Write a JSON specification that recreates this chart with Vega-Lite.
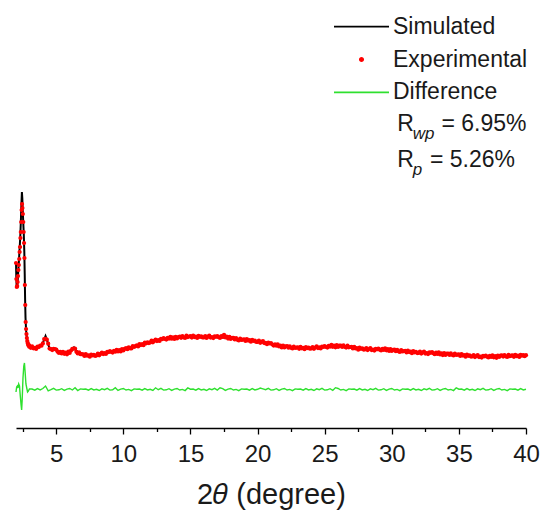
{
  "$schema": "https://vega.github.io/schema/vega-lite/v6.json",
  "width": 510,
  "height": 420,
  "padding": {"left": 12, "top": 8, "right": 5, "bottom": 5},
  "background": "white",
  "config": {"view": {"stroke": null}, "font": "Liberation Sans"},
  "data": {"values": [
    {"s":"Simulated","t":2.00,"i":166},{"s":"Simulated","t":2.02,"i":152},{"s":"Simulated","t":2.05,"i":141},{"s":"Simulated","t":2.09,"i":141},{"s":"Simulated","t":2.13,"i":148},{"s":"Simulated","t":2.17,"i":157},{"s":"Simulated","t":2.21,"i":165},{"s":"Simulated","t":2.25,"i":175},{"s":"Simulated","t":2.29,"i":184},{"s":"Simulated","t":2.33,"i":195},{"s":"Simulated","t":2.37,"i":210},{"s":"Simulated","t":2.41,"i":226},{"s":"Simulated","t":2.44,"i":236},{"s":"Simulated","t":2.47,"i":230},{"s":"Simulated","t":2.50,"i":218},{"s":"Simulated","t":2.54,"i":206},{"s":"Simulated","t":2.58,"i":194},{"s":"Simulated","t":2.62,"i":176},{"s":"Simulated","t":2.65,"i":154},{"s":"Simulated","t":2.68,"i":128},{"s":"Simulated","t":2.71,"i":110},{"s":"Simulated","t":2.75,"i":98},{"s":"Simulated","t":2.80,"i":91},{"s":"Simulated","t":2.86,"i":86},{"s":"Simulated","t":2.93,"i":83},{"s":"Simulated","t":3.0,"i":81.5},{"s":"Simulated","t":3.3,"i":80},{"s":"Simulated","t":3.6,"i":80.5},{"s":"Simulated","t":3.9,"i":83},{"s":"Simulated","t":4.0,"i":85},{"s":"Simulated","t":4.1,"i":88.5},{"s":"Simulated","t":4.2,"i":92},{"s":"Simulated","t":4.3,"i":88.5},{"s":"Simulated","t":4.4,"i":83.5},{"s":"Simulated","t":4.5,"i":80},{"s":"Simulated","t":4.7,"i":79},{"s":"Simulated","t":4.85,"i":79},{"s":"Simulated","t":5.0,"i":77.5},{"s":"Simulated","t":5.5,"i":75},{"s":"Simulated","t":6.0,"i":76},{"s":"Simulated","t":6.2,"i":78.5},{"s":"Simulated","t":6.32,"i":80.5},{"s":"Simulated","t":6.45,"i":78},{"s":"Simulated","t":6.7,"i":74.5},{"s":"Simulated","t":7.0,"i":73},{"s":"Simulated","t":7.5,"i":72.5},{"s":"Simulated","t":8.0,"i":73},{"s":"Simulated","t":9.0,"i":76},{"s":"Simulated","t":10.0,"i":78.5},{"s":"Simulated","t":11.0,"i":82},{"s":"Simulated","t":12.0,"i":86},{"s":"Simulated","t":13.0,"i":89},{"s":"Simulated","t":14.0,"i":90.5},{"s":"Simulated","t":15.0,"i":91.2},{"s":"Simulated","t":16.0,"i":91},{"s":"Simulated","t":17.0,"i":91},{"s":"Simulated","t":18.0,"i":90},{"s":"Simulated","t":19.0,"i":88},{"s":"Simulated","t":20.0,"i":86.5},{"s":"Simulated","t":21.0,"i":84},{"s":"Simulated","t":22.0,"i":81.5},{"s":"Simulated","t":23.0,"i":80},{"s":"Simulated","t":24.0,"i":80},{"s":"Simulated","t":25.0,"i":81},{"s":"Simulated","t":26.0,"i":82},{"s":"Simulated","t":27.0,"i":80.5},{"s":"Simulated","t":28.0,"i":79},{"s":"Simulated","t":29.0,"i":78.5},{"s":"Simulated","t":30.0,"i":78},{"s":"Simulated","t":31.0,"i":76.5},{"s":"Simulated","t":32.0,"i":75.5},{"s":"Simulated","t":33.0,"i":75},{"s":"Simulated","t":34.0,"i":74},{"s":"Simulated","t":35.0,"i":73},{"s":"Simulated","t":36.0,"i":72},{"s":"Simulated","t":37.0,"i":71.5},{"s":"Simulated","t":38.0,"i":72},{"s":"Simulated","t":39.0,"i":72},{"s":"Simulated","t":40.0,"i":72.5},

    {"s":"Experimental","t":2.00,"i":165},{"s":"Experimental","t":2.03,"i":149},{"s":"Experimental","t":2.06,"i":141},{"s":"Experimental","t":2.09,"i":142},{"s":"Experimental","t":2.12,"i":146},{"s":"Experimental","t":2.15,"i":152},{"s":"Experimental","t":2.18,"i":158},{"s":"Experimental","t":2.21,"i":163},{"s":"Experimental","t":2.24,"i":169},{"s":"Experimental","t":2.27,"i":176},{"s":"Experimental","t":2.30,"i":181},{"s":"Experimental","t":2.33,"i":190},{"s":"Experimental","t":2.36,"i":196},{"s":"Experimental","t":2.39,"i":206},{"s":"Experimental","t":2.42,"i":218},{"s":"Experimental","t":2.45,"i":224},{"s":"Experimental","t":2.48,"i":220},{"s":"Experimental","t":2.51,"i":214},{"s":"Experimental","t":2.54,"i":206},{"s":"Experimental","t":2.57,"i":196},{"s":"Experimental","t":2.60,"i":185},{"s":"Experimental","t":2.63,"i":170},{"s":"Experimental","t":2.66,"i":143},{"s":"Experimental","t":2.69,"i":123},{"s":"Experimental","t":2.72,"i":106},{"s":"Experimental","t":2.75,"i":99},{"s":"Experimental","t":2.78,"i":94},{"s":"Experimental","t":2.81,"i":90},{"s":"Experimental","t":2.84,"i":87},{"s":"Experimental","t":2.87,"i":85},{"s":"Experimental","t":2.90,"i":84},{"s":"Experimental","t":2.93,"i":82.5},{"s":"Experimental","t":2.96,"i":82.8},{"s":"Experimental","t":2.99,"i":81.2},
    {"s":"Experimental","t":3.0,"i":82.1},{"s":"Experimental","t":3.1,"i":80.2},{"s":"Experimental","t":3.2,"i":81.6},{"s":"Experimental","t":3.3,"i":79.7},{"s":"Experimental","t":3.4,"i":80.2},{"s":"Experimental","t":3.5,"i":79.0},{"s":"Experimental","t":3.6,"i":81.4},{"s":"Experimental","t":3.7,"i":80.9},{"s":"Experimental","t":3.8,"i":82.5},{"s":"Experimental","t":3.9,"i":82.3},
    {"s":"Experimental","t":4.0,"i":84.6},{"s":"Experimental","t":4.1,"i":89.0},{"s":"Experimental","t":4.2,"i":89.1},{"s":"Experimental","t":4.3,"i":88.3},{"s":"Experimental","t":4.4,"i":84.3},{"s":"Experimental","t":4.5,"i":79.4},{"s":"Experimental","t":4.6,"i":79.0},{"s":"Experimental","t":4.7,"i":77.9},{"s":"Experimental","t":4.8,"i":79.2},{"s":"Experimental","t":4.9,"i":78.9},
    {"s":"Experimental","t":5.0,"i":78.4},{"s":"Experimental","t":5.1,"i":76.3},{"s":"Experimental","t":5.2,"i":75.0},{"s":"Experimental","t":5.3,"i":76.1},{"s":"Experimental","t":5.4,"i":74.5},{"s":"Experimental","t":5.5,"i":76.2},{"s":"Experimental","t":5.6,"i":74.2},{"s":"Experimental","t":5.7,"i":75.4},{"s":"Experimental","t":5.8,"i":73.7},{"s":"Experimental","t":5.9,"i":76.3},
    {"s":"Experimental","t":6.0,"i":75.0},{"s":"Experimental","t":6.1,"i":77.4},{"s":"Experimental","t":6.2,"i":79.2},{"s":"Experimental","t":6.3,"i":79.4},{"s":"Experimental","t":6.4,"i":79.5},{"s":"Experimental","t":6.5,"i":76.2},{"s":"Experimental","t":6.6,"i":74.6},{"s":"Experimental","t":6.7,"i":75.7},{"s":"Experimental","t":6.8,"i":73.8},{"s":"Experimental","t":6.9,"i":73.8},
    {"s":"Experimental","t":7.0,"i":73.6},{"s":"Experimental","t":7.1,"i":72.0},{"s":"Experimental","t":7.2,"i":73.8},{"s":"Experimental","t":7.3,"i":72.3},{"s":"Experimental","t":7.4,"i":72.7},{"s":"Experimental","t":7.5,"i":71.3},{"s":"Experimental","t":7.6,"i":73.4},{"s":"Experimental","t":7.7,"i":72.5},{"s":"Experimental","t":7.8,"i":73.2},{"s":"Experimental","t":7.9,"i":72.1},
    {"s":"Experimental","t":8.0,"i":72.6},{"s":"Experimental","t":8.1,"i":74.3},{"s":"Experimental","t":8.2,"i":72.7},{"s":"Experimental","t":8.3,"i":74.2},{"s":"Experimental","t":8.4,"i":75.5},{"s":"Experimental","t":8.5,"i":73.9},{"s":"Experimental","t":8.6,"i":74.8},{"s":"Experimental","t":8.7,"i":74.0},{"s":"Experimental","t":8.8,"i":76.1},{"s":"Experimental","t":8.9,"i":75.9},
    {"s":"Experimental","t":9.0,"i":76.9},{"s":"Experimental","t":9.1,"i":76.0},{"s":"Experimental","t":9.2,"i":75.4},{"s":"Experimental","t":9.3,"i":77.2},{"s":"Experimental","t":9.4,"i":76.3},{"s":"Experimental","t":9.5,"i":78.2},{"s":"Experimental","t":9.6,"i":76.5},{"s":"Experimental","t":9.7,"i":78.0},{"s":"Experimental","t":9.8,"i":76.6},{"s":"Experimental","t":9.9,"i":79.0},
    {"s":"Experimental","t":10.0,"i":77.5},{"s":"Experimental","t":10.1,"i":79.2},{"s":"Experimental","t":10.2,"i":79.8},{"s":"Experimental","t":10.3,"i":78.8},{"s":"Experimental","t":10.4,"i":80.7},{"s":"Experimental","t":10.5,"i":79.7},{"s":"Experimental","t":10.6,"i":79.5},{"s":"Experimental","t":10.7,"i":82.0},{"s":"Experimental","t":10.8,"i":81.0},{"s":"Experimental","t":10.9,"i":81.9},
    {"s":"Experimental","t":11.0,"i":82.6},{"s":"Experimental","t":11.1,"i":81.6},{"s":"Experimental","t":11.2,"i":83.9},{"s":"Experimental","t":11.3,"i":82.9},{"s":"Experimental","t":11.4,"i":83.8},{"s":"Experimental","t":11.5,"i":82.8},{"s":"Experimental","t":11.6,"i":85.3},{"s":"Experimental","t":11.7,"i":84.7},{"s":"Experimental","t":11.8,"i":85.7},{"s":"Experimental","t":11.9,"i":84.9},
    {"s":"Experimental","t":12.0,"i":85.6},{"s":"Experimental","t":12.1,"i":87.3},{"s":"Experimental","t":12.2,"i":85.7},{"s":"Experimental","t":12.3,"i":87.2},{"s":"Experimental","t":12.4,"i":88.5},{"s":"Experimental","t":12.5,"i":86.9},{"s":"Experimental","t":12.6,"i":87.8},{"s":"Experimental","t":12.7,"i":87.0},{"s":"Experimental","t":12.8,"i":89.1},{"s":"Experimental","t":12.9,"i":88.9},
    {"s":"Experimental","t":13.0,"i":89.9},{"s":"Experimental","t":13.1,"i":89.0},{"s":"Experimental","t":13.2,"i":88.4},{"s":"Experimental","t":13.3,"i":90.2},{"s":"Experimental","t":13.4,"i":89.3},{"s":"Experimental","t":13.5,"i":91.2},{"s":"Experimental","t":13.6,"i":89.3},{"s":"Experimental","t":13.7,"i":90.6},{"s":"Experimental","t":13.8,"i":89.0},{"s":"Experimental","t":13.9,"i":91.2},
    {"s":"Experimental","t":14.0,"i":89.5},{"s":"Experimental","t":14.1,"i":91.0},{"s":"Experimental","t":14.2,"i":91.4},{"s":"Experimental","t":14.3,"i":90.2},{"s":"Experimental","t":14.4,"i":91.9},{"s":"Experimental","t":14.5,"i":90.7},{"s":"Experimental","t":14.6,"i":90.1},{"s":"Experimental","t":14.7,"i":92.3},{"s":"Experimental","t":14.8,"i":90.9},{"s":"Experimental","t":14.9,"i":91.5},
    {"s":"Experimental","t":15.0,"i":91.8},{"s":"Experimental","t":15.1,"i":90.4},{"s":"Experimental","t":15.2,"i":92.3},{"s":"Experimental","t":15.3,"i":90.9},{"s":"Experimental","t":15.4,"i":91.4},{"s":"Experimental","t":15.5,"i":90.0},{"s":"Experimental","t":15.6,"i":92.1},{"s":"Experimental","t":15.7,"i":91.1},{"s":"Experimental","t":15.8,"i":91.7},{"s":"Experimental","t":15.9,"i":90.5},
    {"s":"Experimental","t":16.0,"i":90.6},{"s":"Experimental","t":16.1,"i":92.0},{"s":"Experimental","t":16.2,"i":90.1},{"s":"Experimental","t":16.3,"i":91.3},{"s":"Experimental","t":16.4,"i":92.3},{"s":"Experimental","t":16.5,"i":90.4},{"s":"Experimental","t":16.6,"i":91.0},{"s":"Experimental","t":16.7,"i":89.9},{"s":"Experimental","t":16.8,"i":91.7},{"s":"Experimental","t":16.9,"i":91.2},
    {"s":"Experimental","t":17.0,"i":91.9},{"s":"Experimental","t":17.1,"i":90.8},{"s":"Experimental","t":17.2,"i":90.0},{"s":"Experimental","t":17.3,"i":91.8},{"s":"Experimental","t":17.4,"i":91.0},{"s":"Experimental","t":17.5,"i":93.2},{"s":"Experimental","t":17.6,"i":90.5},{"s":"Experimental","t":17.7,"i":91.4},{"s":"Experimental","t":17.8,"i":89.4},{"s":"Experimental","t":17.9,"i":91.1},
    {"s":"Experimental","t":18.0,"i":89.0},{"s":"Experimental","t":18.1,"i":90.1},{"s":"Experimental","t":18.2,"i":90.1},{"s":"Experimental","t":18.3,"i":88.5},{"s":"Experimental","t":18.4,"i":89.8},{"s":"Experimental","t":18.5,"i":88.2},{"s":"Experimental","t":18.6,"i":87.5},{"s":"Experimental","t":18.7,"i":89.5},{"s":"Experimental","t":18.8,"i":88.0},{"s":"Experimental","t":18.9,"i":88.4},
    {"s":"Experimental","t":19.0,"i":88.6},{"s":"Experimental","t":19.1,"i":87.1},{"s":"Experimental","t":19.2,"i":88.9},{"s":"Experimental","t":19.3,"i":87.4},{"s":"Experimental","t":19.4,"i":87.8},{"s":"Experimental","t":19.5,"i":86.3},{"s":"Experimental","t":19.6,"i":88.2},{"s":"Experimental","t":19.7,"i":87.0},{"s":"Experimental","t":19.8,"i":87.4},{"s":"Experimental","t":19.9,"i":86.0},
    {"s":"Experimental","t":20.0,"i":86.1},{"s":"Experimental","t":20.1,"i":87.3},{"s":"Experimental","t":20.2,"i":85.2},{"s":"Experimental","t":20.3,"i":86.2},{"s":"Experimental","t":20.4,"i":87.0},{"s":"Experimental","t":20.5,"i":84.9},{"s":"Experimental","t":20.6,"i":85.2},{"s":"Experimental","t":20.7,"i":83.8},{"s":"Experimental","t":20.8,"i":85.3},{"s":"Experimental","t":20.9,"i":84.5},
    {"s":"Experimental","t":21.0,"i":84.9},{"s":"Experimental","t":21.1,"i":83.5},{"s":"Experimental","t":21.2,"i":82.4},{"s":"Experimental","t":21.3,"i":83.7},{"s":"Experimental","t":21.4,"i":82.3},{"s":"Experimental","t":21.5,"i":83.7},{"s":"Experimental","t":21.6,"i":81.5},{"s":"Experimental","t":21.7,"i":82.5},{"s":"Experimental","t":21.8,"i":80.6},{"s":"Experimental","t":21.9,"i":82.5},
    {"s":"Experimental","t":22.0,"i":80.5},{"s":"Experimental","t":22.1,"i":81.7},{"s":"Experimental","t":22.2,"i":81.8},{"s":"Experimental","t":22.3,"i":80.3},{"s":"Experimental","t":22.4,"i":81.7},{"s":"Experimental","t":22.5,"i":80.2},{"s":"Experimental","t":22.6,"i":79.5},{"s":"Experimental","t":22.7,"i":81.5},{"s":"Experimental","t":22.8,"i":80.0},{"s":"Experimental","t":22.9,"i":80.4},
    {"s":"Experimental","t":23.0,"i":80.6},{"s":"Experimental","t":23.1,"i":79.2},{"s":"Experimental","t":23.2,"i":81.1},{"s":"Experimental","t":23.3,"i":79.7},{"s":"Experimental","t":23.4,"i":80.2},{"s":"Experimental","t":23.5,"i":78.8},{"s":"Experimental","t":23.6,"i":80.9},{"s":"Experimental","t":23.7,"i":79.9},{"s":"Experimental","t":23.8,"i":80.5},{"s":"Experimental","t":23.9,"i":79.3},
    {"s":"Experimental","t":24.0,"i":79.6},{"s":"Experimental","t":24.1,"i":81.0},{"s":"Experimental","t":24.2,"i":79.2},{"s":"Experimental","t":24.3,"i":80.5},{"s":"Experimental","t":24.4,"i":81.6},{"s":"Experimental","t":24.5,"i":79.9},{"s":"Experimental","t":24.6,"i":80.6},{"s":"Experimental","t":24.7,"i":79.6},{"s":"Experimental","t":24.8,"i":81.5},{"s":"Experimental","t":24.9,"i":81.1},
    {"s":"Experimental","t":25.0,"i":81.9},{"s":"Experimental","t":25.1,"i":81.0},{"s":"Experimental","t":25.2,"i":80.4},{"s":"Experimental","t":25.3,"i":82.2},{"s":"Experimental","t":25.4,"i":81.3},{"s":"Experimental","t":25.5,"i":83.2},{"s":"Experimental","t":25.6,"i":81.2},{"s":"Experimental","t":25.7,"i":82.5},{"s":"Experimental","t":25.8,"i":80.7},{"s":"Experimental","t":25.9,"i":82.8},
    {"s":"Experimental","t":26.0,"i":81.0},{"s":"Experimental","t":26.1,"i":82.3},{"s":"Experimental","t":26.2,"i":82.5},{"s":"Experimental","t":26.3,"i":81.1},{"s":"Experimental","t":26.4,"i":82.6},{"s":"Experimental","t":26.5,"i":81.2},{"s":"Experimental","t":26.6,"i":80.4},{"s":"Experimental","t":26.7,"i":82.3},{"s":"Experimental","t":26.8,"i":80.7},{"s":"Experimental","t":26.9,"i":81.0},
    {"s":"Experimental","t":27.0,"i":81.1},{"s":"Experimental","t":27.1,"i":79.5},{"s":"Experimental","t":27.2,"i":81.2},{"s":"Experimental","t":27.3,"i":79.6},{"s":"Experimental","t":27.4,"i":79.9},{"s":"Experimental","t":27.5,"i":78.3},{"s":"Experimental","t":27.6,"i":80.3},{"s":"Experimental","t":27.7,"i":79.2},{"s":"Experimental","t":27.8,"i":79.7},{"s":"Experimental","t":27.9,"i":78.4},
    {"s":"Experimental","t":28.0,"i":78.6},{"s":"Experimental","t":28.1,"i":79.9},{"s":"Experimental","t":28.2,"i":77.9},{"s":"Experimental","t":28.3,"i":79.0},{"s":"Experimental","t":28.4,"i":79.9},{"s":"Experimental","t":28.5,"i":77.9},{"s":"Experimental","t":28.6,"i":78.5},{"s":"Experimental","t":28.7,"i":77.4},{"s":"Experimental","t":28.8,"i":79.2},{"s":"Experimental","t":28.9,"i":78.7},
    {"s":"Experimental","t":29.0,"i":79.4},{"s":"Experimental","t":29.1,"i":78.3},{"s":"Experimental","t":29.2,"i":77.5},{"s":"Experimental","t":29.3,"i":79.1},{"s":"Experimental","t":29.4,"i":78.0},{"s":"Experimental","t":29.5,"i":79.7},{"s":"Experimental","t":29.6,"i":77.7},{"s":"Experimental","t":29.7,"i":78.9},{"s":"Experimental","t":29.8,"i":77.0},{"s":"Experimental","t":29.9,"i":78.9},
    {"s":"Experimental","t":30.0,"i":77.0},{"s":"Experimental","t":30.1,"i":78.2},{"s":"Experimental","t":30.2,"i":78.3},{"s":"Experimental","t":30.3,"i":76.8},{"s":"Experimental","t":30.4,"i":78.2},{"s":"Experimental","t":30.5,"i":76.7},{"s":"Experimental","t":30.6,"i":76.0},{"s":"Experimental","t":30.7,"i":78.0},{"s":"Experimental","t":30.8,"i":76.5},{"s":"Experimental","t":30.9,"i":76.9},
    {"s":"Experimental","t":31.0,"i":77.1},{"s":"Experimental","t":31.1,"i":75.6},{"s":"Experimental","t":31.2,"i":77.4},{"s":"Experimental","t":31.3,"i":75.9},{"s":"Experimental","t":31.4,"i":76.3},{"s":"Experimental","t":31.5,"i":74.8},{"s":"Experimental","t":31.6,"i":76.8},{"s":"Experimental","t":31.7,"i":75.7},{"s":"Experimental","t":31.8,"i":76.2},{"s":"Experimental","t":31.9,"i":74.9},
    {"s":"Experimental","t":32.0,"i":75.1},{"s":"Experimental","t":32.1,"i":76.4},{"s":"Experimental","t":32.2,"i":74.4},{"s":"Experimental","t":32.3,"i":75.5},{"s":"Experimental","t":32.4,"i":76.4},{"s":"Experimental","t":32.5,"i":74.4},{"s":"Experimental","t":32.6,"i":75.0},{"s":"Experimental","t":32.7,"i":73.9},{"s":"Experimental","t":32.8,"i":75.7},{"s":"Experimental","t":32.9,"i":75.2},
    {"s":"Experimental","t":33.0,"i":75.9},{"s":"Experimental","t":33.1,"i":74.7},{"s":"Experimental","t":33.2,"i":73.8},{"s":"Experimental","t":33.3,"i":75.3},{"s":"Experimental","t":33.4,"i":74.1},{"s":"Experimental","t":33.5,"i":75.7},{"s":"Experimental","t":33.6,"i":73.6},{"s":"Experimental","t":33.7,"i":74.7},{"s":"Experimental","t":33.8,"i":72.9},{"s":"Experimental","t":33.9,"i":74.9},
    {"s":"Experimental","t":34.0,"i":73.0},{"s":"Experimental","t":34.1,"i":74.3},{"s":"Experimental","t":34.2,"i":74.5},{"s":"Experimental","t":34.3,"i":73.1},{"s":"Experimental","t":34.4,"i":74.6},{"s":"Experimental","t":34.5,"i":73.2},{"s":"Experimental","t":34.6,"i":72.5},{"s":"Experimental","t":34.7,"i":74.5},{"s":"Experimental","t":34.8,"i":73.0},{"s":"Experimental","t":34.9,"i":73.4},
    {"s":"Experimental","t":35.0,"i":73.6},{"s":"Experimental","t":35.1,"i":72.1},{"s":"Experimental","t":35.2,"i":73.9},{"s":"Experimental","t":35.3,"i":72.4},{"s":"Experimental","t":35.4,"i":72.8},{"s":"Experimental","t":35.5,"i":71.3},{"s":"Experimental","t":35.6,"i":73.3},{"s":"Experimental","t":35.7,"i":72.2},{"s":"Experimental","t":35.8,"i":72.7},{"s":"Experimental","t":35.9,"i":71.4},
    {"s":"Experimental","t":36.0,"i":71.6},{"s":"Experimental","t":36.1,"i":72.9},{"s":"Experimental","t":36.2,"i":70.9},{"s":"Experimental","t":36.3,"i":72.0},{"s":"Experimental","t":36.4,"i":72.9},{"s":"Experimental","t":36.5,"i":70.9},{"s":"Experimental","t":36.6,"i":71.5},{"s":"Experimental","t":36.7,"i":70.4},{"s":"Experimental","t":36.8,"i":72.2},{"s":"Experimental","t":36.9,"i":71.7},
    {"s":"Experimental","t":37.0,"i":72.4},{"s":"Experimental","t":37.1,"i":71.3},{"s":"Experimental","t":37.2,"i":70.5},{"s":"Experimental","t":37.3,"i":72.1},{"s":"Experimental","t":37.4,"i":71.0},{"s":"Experimental","t":37.5,"i":72.7},{"s":"Experimental","t":37.6,"i":70.7},{"s":"Experimental","t":37.7,"i":71.9},{"s":"Experimental","t":37.8,"i":70.2},{"s":"Experimental","t":37.9,"i":72.3},
    {"s":"Experimental","t":38.0,"i":71.0},{"s":"Experimental","t":38.1,"i":72.4},{"s":"Experimental","t":38.2,"i":72.7},{"s":"Experimental","t":38.3,"i":71.4},{"s":"Experimental","t":38.4,"i":73.0},{"s":"Experimental","t":38.5,"i":71.7},{"s":"Experimental","t":38.6,"i":71.1},{"s":"Experimental","t":38.7,"i":73.2},{"s":"Experimental","t":38.8,"i":71.8},{"s":"Experimental","t":38.9,"i":72.3},
    {"s":"Experimental","t":39.0,"i":72.6},{"s":"Experimental","t":39.1,"i":71.2},{"s":"Experimental","t":39.2,"i":73.2},{"s":"Experimental","t":39.3,"i":71.8},{"s":"Experimental","t":39.4,"i":72.4},{"s":"Experimental","t":39.5,"i":71.1},{"s":"Experimental","t":39.6,"i":73.2},{"s":"Experimental","t":39.7,"i":72.3},{"s":"Experimental","t":39.8,"i":72.9},{"s":"Experimental","t":39.9,"i":71.8},
    {"s":"Experimental","t":40.0,"i":72.8},

    {"s":"Difference","t":2.00,"i":36},{"s":"Difference","t":2.05,"i":41},{"s":"Difference","t":2.10,"i":42},{"s":"Difference","t":2.15,"i":40},{"s":"Difference","t":2.20,"i":44},{"s":"Difference","t":2.26,"i":42},{"s":"Difference","t":2.32,"i":32},{"s":"Difference","t":2.38,"i":23},{"s":"Difference","t":2.42,"i":18},{"s":"Difference","t":2.46,"i":28},{"s":"Difference","t":2.52,"i":50},{"s":"Difference","t":2.58,"i":62},{"s":"Difference","t":2.63,"i":65},{"s":"Difference","t":2.68,"i":56},{"s":"Difference","t":2.74,"i":44},{"s":"Difference","t":2.80,"i":40},{"s":"Difference","t":2.86,"i":36},{"s":"Difference","t":2.92,"i":37},{"s":"Difference","t":3.0,"i":39},
    {"s":"Difference","t":3.2,"i":39.0},{"s":"Difference","t":3.4,"i":37.8},{"s":"Difference","t":3.6,"i":39.4},{"s":"Difference","t":3.8,"i":38.1},{"s":"Difference","t":4.0,"i":39.5},{"s":"Difference","t":4.2,"i":42.0},{"s":"Difference","t":4.4,"i":37.2},{"s":"Difference","t":4.6,"i":38.3},{"s":"Difference","t":4.8,"i":39.6},{"s":"Difference","t":5.0,"i":37.9},
    {"s":"Difference","t":5.2,"i":38.2},{"s":"Difference","t":5.4,"i":39.3},{"s":"Difference","t":5.6,"i":37.6},{"s":"Difference","t":5.8,"i":38.9},{"s":"Difference","t":6.0,"i":39.5},{"s":"Difference","t":6.2,"i":38.0},{"s":"Difference","t":6.4,"i":40.2},{"s":"Difference","t":6.6,"i":37.4},{"s":"Difference","t":6.8,"i":39.1},{"s":"Difference","t":7.0,"i":38.8},
    {"s":"Difference","t":7.2,"i":39.0},{"s":"Difference","t":7.4,"i":37.8},{"s":"Difference","t":7.6,"i":39.4},{"s":"Difference","t":7.8,"i":38.1},{"s":"Difference","t":8.0,"i":38.7},{"s":"Difference","t":8.2,"i":37.5},{"s":"Difference","t":8.4,"i":39.2},{"s":"Difference","t":8.6,"i":38.3},{"s":"Difference","t":8.8,"i":39.6},{"s":"Difference","t":9.0,"i":37.9},
    {"s":"Difference","t":9.2,"i":38.2},{"s":"Difference","t":9.4,"i":40.3},{"s":"Difference","t":9.6,"i":37.6},{"s":"Difference","t":9.8,"i":38.9},{"s":"Difference","t":10.0,"i":39.5},{"s":"Difference","t":10.2,"i":38.0},{"s":"Difference","t":10.4,"i":38.6},{"s":"Difference","t":10.6,"i":37.4},{"s":"Difference","t":10.8,"i":39.1},{"s":"Difference","t":11.0,"i":38.8},
    {"s":"Difference","t":11.2,"i":39.0},{"s":"Difference","t":11.4,"i":37.8},{"s":"Difference","t":11.6,"i":39.4},{"s":"Difference","t":11.8,"i":38.1},{"s":"Difference","t":12.0,"i":38.7},{"s":"Difference","t":12.2,"i":37.5},{"s":"Difference","t":12.4,"i":40.2},{"s":"Difference","t":12.6,"i":38.3},{"s":"Difference","t":12.8,"i":39.6},{"s":"Difference","t":13.0,"i":37.9},
    {"s":"Difference","t":13.2,"i":38.2},{"s":"Difference","t":13.4,"i":39.3},{"s":"Difference","t":13.6,"i":37.6},{"s":"Difference","t":13.8,"i":38.9},{"s":"Difference","t":14.0,"i":39.5},{"s":"Difference","t":14.2,"i":38.0},{"s":"Difference","t":14.4,"i":38.6},{"s":"Difference","t":14.6,"i":37.4},{"s":"Difference","t":14.8,"i":40.1},{"s":"Difference","t":15.0,"i":38.8},
    {"s":"Difference","t":15.2,"i":39.0},{"s":"Difference","t":15.4,"i":37.8},{"s":"Difference","t":15.6,"i":39.4},{"s":"Difference","t":15.8,"i":38.1},{"s":"Difference","t":16.0,"i":38.7},{"s":"Difference","t":16.2,"i":37.5},{"s":"Difference","t":16.4,"i":39.2},{"s":"Difference","t":16.6,"i":38.3},{"s":"Difference","t":16.8,"i":39.6},{"s":"Difference","t":17.0,"i":37.9},
    {"s":"Difference","t":17.2,"i":40.2},{"s":"Difference","t":17.4,"i":39.3},{"s":"Difference","t":17.6,"i":37.6},{"s":"Difference","t":17.8,"i":38.9},{"s":"Difference","t":18.0,"i":39.5},{"s":"Difference","t":18.2,"i":38.0},{"s":"Difference","t":18.4,"i":38.6},{"s":"Difference","t":18.6,"i":37.4},{"s":"Difference","t":18.8,"i":39.1},{"s":"Difference","t":19.0,"i":38.8},
    {"s":"Difference","t":19.2,"i":39.0},{"s":"Difference","t":19.4,"i":37.8},{"s":"Difference","t":19.6,"i":39.4},{"s":"Difference","t":19.8,"i":38.1},{"s":"Difference","t":20.0,"i":38.7},{"s":"Difference","t":20.2,"i":40.0},{"s":"Difference","t":20.4,"i":39.2},{"s":"Difference","t":20.6,"i":38.3},{"s":"Difference","t":20.8,"i":39.6},{"s":"Difference","t":21.0,"i":37.9},
    {"s":"Difference","t":21.2,"i":38.2},{"s":"Difference","t":21.4,"i":39.3},{"s":"Difference","t":21.6,"i":37.6},{"s":"Difference","t":21.8,"i":38.9},{"s":"Difference","t":22.0,"i":39.5},{"s":"Difference","t":22.2,"i":38.0},{"s":"Difference","t":22.4,"i":38.6},{"s":"Difference","t":22.6,"i":37.4},{"s":"Difference","t":22.8,"i":39.1},{"s":"Difference","t":23.0,"i":38.8},
    {"s":"Difference","t":23.2,"i":39.0},{"s":"Difference","t":23.4,"i":37.8},{"s":"Difference","t":23.6,"i":39.4},{"s":"Difference","t":23.8,"i":38.1},{"s":"Difference","t":24.0,"i":38.7},{"s":"Difference","t":24.2,"i":37.5},{"s":"Difference","t":24.4,"i":39.2},{"s":"Difference","t":24.6,"i":38.3},{"s":"Difference","t":24.8,"i":39.6},{"s":"Difference","t":25.0,"i":37.9},
    {"s":"Difference","t":25.2,"i":38.2},{"s":"Difference","t":25.4,"i":39.3},{"s":"Difference","t":25.6,"i":37.6},{"s":"Difference","t":25.8,"i":40.3},{"s":"Difference","t":26.0,"i":39.5},{"s":"Difference","t":26.2,"i":38.0},{"s":"Difference","t":26.4,"i":38.6},{"s":"Difference","t":26.6,"i":37.4},{"s":"Difference","t":26.8,"i":39.1},{"s":"Difference","t":27.0,"i":38.8},
    {"s":"Difference","t":27.2,"i":39.0},{"s":"Difference","t":27.4,"i":37.8},{"s":"Difference","t":27.6,"i":39.4},{"s":"Difference","t":27.8,"i":38.1},{"s":"Difference","t":28.0,"i":38.7},{"s":"Difference","t":28.2,"i":37.5},{"s":"Difference","t":28.4,"i":39.2},{"s":"Difference","t":28.6,"i":38.3},{"s":"Difference","t":28.8,"i":39.6},{"s":"Difference","t":29.0,"i":37.9},
    {"s":"Difference","t":29.2,"i":38.2},{"s":"Difference","t":29.4,"i":39.3},{"s":"Difference","t":29.6,"i":37.6},{"s":"Difference","t":29.8,"i":38.9},{"s":"Difference","t":30.0,"i":39.5},{"s":"Difference","t":30.2,"i":38.0},{"s":"Difference","t":30.4,"i":38.6},{"s":"Difference","t":30.6,"i":37.4},{"s":"Difference","t":30.8,"i":39.1},{"s":"Difference","t":31.0,"i":38.8},
    {"s":"Difference","t":31.2,"i":39.0},{"s":"Difference","t":31.4,"i":37.8},{"s":"Difference","t":31.6,"i":39.4},{"s":"Difference","t":31.8,"i":38.1},{"s":"Difference","t":32.0,"i":38.7},{"s":"Difference","t":32.2,"i":37.5},{"s":"Difference","t":32.4,"i":39.2},{"s":"Difference","t":32.6,"i":38.3},{"s":"Difference","t":32.8,"i":39.6},{"s":"Difference","t":33.0,"i":37.9},
    {"s":"Difference","t":33.2,"i":38.2},{"s":"Difference","t":33.4,"i":39.3},{"s":"Difference","t":33.6,"i":37.6},{"s":"Difference","t":33.8,"i":38.9},{"s":"Difference","t":34.0,"i":39.5},{"s":"Difference","t":34.2,"i":38.0},{"s":"Difference","t":34.4,"i":38.6},{"s":"Difference","t":34.6,"i":37.4},{"s":"Difference","t":34.8,"i":40.2},{"s":"Difference","t":35.0,"i":38.8},
    {"s":"Difference","t":35.2,"i":39.0},{"s":"Difference","t":35.4,"i":37.8},{"s":"Difference","t":35.6,"i":39.4},{"s":"Difference","t":35.8,"i":38.1},{"s":"Difference","t":36.0,"i":38.7},{"s":"Difference","t":36.2,"i":37.5},{"s":"Difference","t":36.4,"i":39.2},{"s":"Difference","t":36.6,"i":38.3},{"s":"Difference","t":36.8,"i":39.6},{"s":"Difference","t":37.0,"i":37.9},
    {"s":"Difference","t":37.2,"i":38.2},{"s":"Difference","t":37.4,"i":39.3},{"s":"Difference","t":37.6,"i":37.6},{"s":"Difference","t":37.8,"i":38.9},{"s":"Difference","t":38.0,"i":39.5},{"s":"Difference","t":38.2,"i":38.0},{"s":"Difference","t":38.4,"i":38.6},{"s":"Difference","t":38.6,"i":37.4},{"s":"Difference","t":38.8,"i":39.1},{"s":"Difference","t":39.0,"i":38.8},
    {"s":"Difference","t":39.2,"i":39.0},{"s":"Difference","t":39.4,"i":37.8},{"s":"Difference","t":39.6,"i":39.4},{"s":"Difference","t":39.8,"i":38.1},{"s":"Difference","t":40.0,"i":38.7}
  ]},
  "encoding": {
    "x": {
      "field": "t", "type": "quantitative",
      "scale": {"domain": [2, 40], "nice": false, "zero": false},
      "axis": {
        "values": [2.5, 5, 7.5, 10, 12.5, 15, 17.5, 20, 22.5, 25, 27.5, 30, 32.5, 35, 37.5, 40],
        "labelExpr": "datum.value % 5 === 0 ? datum.label : ''",
        "tickSize": {"condition": {"test": "datum.value % 5 === 0", "value": 6}, "value": 3.5},
        "tickColor": "#000", "tickWidth": 1.3,
        "domainColor": "#000", "domainWidth": 1.3,
        "grid": false,
        "labelFont": "Liberation Sans", "labelFontSize": 24, "labelColor": "#1a1a1a",
        "labelPadding": 8, "labelFlush": false, "labelOverlap": false,
        "title": "2𝜃 (degree)", "titleFont": "Liberation Sans", "titleFontSize": 29,
        "titleFontWeight": "normal", "titleColor": "#1a1a1a", "titlePadding": 14
      }
    },
    "y": {
      "field": "i", "type": "quantitative",
      "scale": {"domain": [0, 420], "nice": false, "zero": false},
      "axis": null
    }
  },
  "layer": [
    {
      "layer": [
        {
          "transform": [{"filter": "datum.s === 'Simulated'"}],
          "mark": {"type": "line", "strokeWidth": 2}
        },
        {
          "transform": [{"filter": "datum.s === 'Experimental'"}],
          "mark": {"type": "circle", "size": 18, "opacity": 1}
        },
        {
          "transform": [{"filter": "datum.s === 'Difference'"}],
          "mark": {"type": "line", "strokeWidth": 1.4}
        }
      ],
      "encoding": {
        "color": {
          "field": "s", "type": "nominal",
          "scale": {"domain": ["Simulated", "Experimental", "Difference"], "range": ["#000000", "#ff0000", "#2fe02f"]},
          "legend": {
            "orient": "none", "legendX": 334, "legendY": 7.1,
            "title": null, "padding": 0,
            "labelFont": "Liberation Sans", "labelFontSize": 23, "labelColor": "#1a1a1a",
            "symbolSize": 100, "labelOffset": 20, "rowPadding": 8.9,
            "symbolType": "M-5.5,0H5.5", "symbolStrokeWidth": 1.6,
            "encode": {
              "symbols": {
                "update": {
                  "shape": {"signal": "datum.value === 'Experimental' ? 'circle' : 'M-5.5,0H5.5'"},
                  "size": {"signal": "datum.value === 'Experimental' ? 12 : 100"},
                  "fill": {"signal": "datum.value === 'Experimental' ? '#ff0000' : 'transparent'"},
                  "stroke": {"signal": "datum.value === 'Simulated' ? '#000000' : (datum.value === 'Difference' ? '#2fe02f' : 'transparent')"},
                  "strokeWidth": {"value": 1.6},
                  "opacity": {"value": 1}
                }
              }
            }
          }
        }
      }
    },
    {
      "data": {"values": [
        {"main": "R", "sub": "wp", "val": "= 6.95%", "t": 30.4, "tv": 33.7, "i": 297.3},
        {"main": "R", "sub": "p", "val": "= 5.26%", "t": 30.4, "tv": 32.84, "i": 261.3}
      ]},
      "layer": [
        {
          "mark": {"type": "text", "align": "left", "baseline": "alphabetic", "font": "Liberation Sans", "fontSize": 23, "color": "#1a1a1a"},
          "encoding": {"text": {"field": "main"}}
        },
        {
          "mark": {"type": "text", "align": "left", "baseline": "alphabetic", "font": "Liberation Sans", "fontSize": 17, "fontStyle": "italic", "color": "#1a1a1a", "dx": 15.5, "dy": 8.5},
          "encoding": {"text": {"field": "sub"}}
        },
        {
          "mark": {"type": "text", "align": "left", "baseline": "alphabetic", "font": "Liberation Sans", "fontSize": 23, "color": "#1a1a1a"},
          "encoding": {"x": {"field": "tv", "type": "quantitative"}, "text": {"field": "val"}}
        }
      ]
    }
  ]
}
